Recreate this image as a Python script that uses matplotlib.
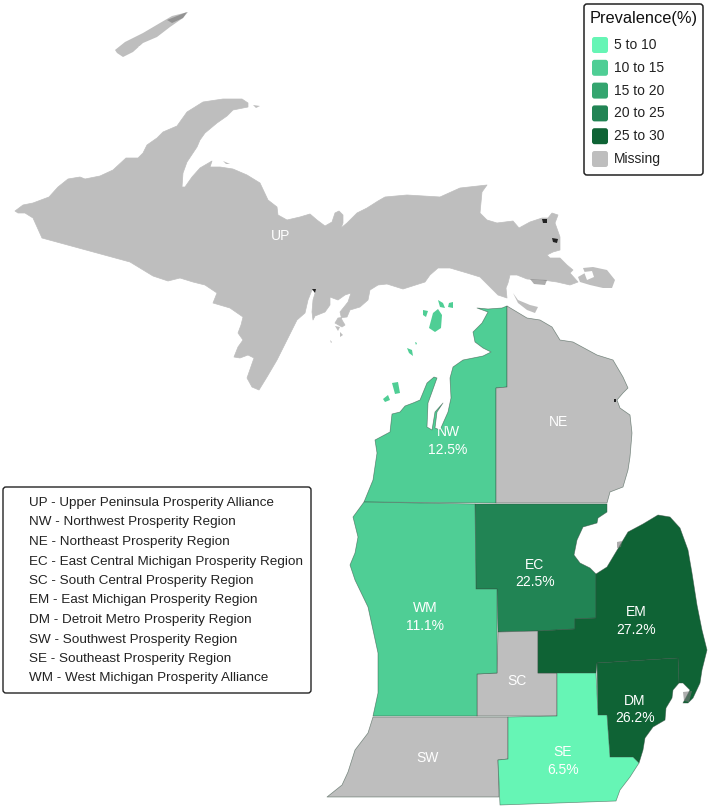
#!/usr/bin/env python3
# -*- coding: utf-8 -*-

import matplotlib
matplotlib.use('Agg')
import matplotlib.pyplot as plt
import numpy as np
from matplotlib.patches import FancyBboxPatch

plt.rcParams['font.family'] = ['Liberation Sans', 'DejaVu Sans']

UP = [(15,211),(23,205),(33,203),(49,197),(58,187),(68,179),(80,177),(85,179),(100,176),(113,170),
      (126,158),(138,158),(143,153),(147,145),(157,138),(163,132),(177,126),(187,112),(203,102),(223,99),
      (242,99),(248,103),(248,107),(233,110),(227,116),(217,123),(205,133),(200,140),(197,147),(187,162),
      (183,173),(182,187),(185,187),(192,177),(200,168),(212,161),(210,167),(220,167),(233,169),(247,175),
      (260,183),(268,200),(277,207),(278,215),(287,220),(300,217),(310,214),(317,220),(325,226),(332,222),
      (335,213),(339,211),(343,215),(343,223),(341,228),(347,223),(357,213),(367,208),(378,201),(385,197),
      (407,195),(440,197),(460,188),(487,185),(482,192),(480,213),(487,220),(497,223),(513,221),(519,228),
      (530,222),(542,218),(548,218),(552,213),(558,215),(555,223),(560,237),(560,250),(553,252),(547,255),
      (550,258),(560,258),(567,265),(573,270),(570,273),(578,282),(570,285),(557,282),(543,280),(527,279),
      (517,275),(510,275),(508,283),(506,288),(507,298),(498,295),(490,287),(480,277),(467,273),(450,268),
      (438,268),(430,275),(425,282),(403,289),(387,284),(378,285),(370,290),(368,300),(360,307),(350,310),
      (347,317),(338,318),(335,323),(342,327),(345,325),(342,320),(340,312),(348,302),(351,293),(345,295),
      (338,300),(330,297),(330,305),(325,312),(315,316),(313,320),(312,312),(313,300),(316,290),(312,290),
      (308,300),(305,313),(297,320),(287,340),(277,360),(267,377),(259,390),(252,387),(247,378),(254,358),
      (248,355),(240,358),(234,357),(238,347),(243,340),(238,333),(241,325),(243,317),(230,308),(213,303),
      (217,293),(205,285),(193,282),(180,278),(168,281),(153,276),(130,262),(42,238),(33,218),(25,213),(18,213)]
ISLE_ROYALE = [(115,50),(125,42),(143,33),(160,23),(172,16),(188,12),(183,18),(170,27),(157,37),(143,43),
               (133,52),(123,57),(117,53)]
DRUMMOND = [(583,268),(593,267),(607,270),(615,280),(612,288),(603,288),(590,285),(580,282),(578,277),(585,273)]
BOIS_BLANC = [(513,293),(518,300),(530,305),(538,307),(535,313),(527,310),(518,303)]
UP_ISLETS = [[(340,332),(343,335),(340,337)], [(330,340),(332,342),(331,343)], [(253,105),(260,106),(256,108)],
             [(223,161),(230,164),(226,164)], [(335,326),(340,327),(338,331)]]

NW = [(507,306),(507,387),(496,388),(496,503),(364,502),(373,480),(377,453),(375,440),(390,432),(392,414),
      (400,412),(405,406),(413,403),(420,400),(427,383),(434,377),(437,378),(432,392),(428,403),(427,427),
      (432,430),(435,412),(443,403),(437,412),(435,428),(440,430),(448,412),(451,398),(450,378),(453,367),
      (463,360),(483,356),(491,352),(483,348),(475,342),(473,332),(482,323),(488,312),(477,308),(488,309),
      (502,308)]
NE = [(507,306),(527,318),(540,320),(552,327),(560,340),(573,342),(597,355),(613,360),(623,377),(628,388),
      (623,393),(617,400),(620,408),(630,415),(632,433),(630,457),(628,470),(623,487),(610,492),(607,503),
      (496,503),(496,388),(507,387)]
WM = [(364,502),(475,504),(476,589),(497,589),(497,673),(477,674),(477,716),(373,716),(378,693),(378,653),
      (368,607),(355,580),(350,565),(355,553),(358,537),(353,517)]
EC = [(475,504),(607,504),(607,512),(598,518),(597,523),(583,527),(577,540),(574,555),(580,563),(590,568),
      (596,574),(596,618),(575,619),(575,629),(538,631),(498,632),(497,589),(476,589)]
EM = [(596,574),(607,567),(613,557),(622,542),(628,532),(643,524),(658,515),(670,517),(680,528),(688,550),
      (692,573),(697,605),(702,630),(707,650),(702,670),(700,683),(693,698),(688,703),(683,703),(690,690),
      (683,683),(679,683),(678,658),(597,663),(596,673),(538,673),(538,631),(575,629),(575,619),(596,618)]
DM = [(597,663),(678,658),(679,683),(673,690),(672,698),(666,708),(665,720),(653,727),(645,738),(643,750),
      (639,763),(633,757),(610,757),(607,715),(598,715)]
SE = [(557,673),(596,673),(598,715),(607,715),(610,757),(633,757),(639,763),(630,777),(620,790),(616,801),
      (500,805),(498,760),(508,759),(508,717),(557,716)]
SC = [(498,632),(538,631),(538,673),(557,673),(557,716),(477,716),(477,674),(497,673)]
SW = [(373,717),(508,717),(508,759),(498,760),(499,797),(327,797),(342,785),(348,772),(355,750),(368,733)]

NW_ISLANDS = [[(429,328),(433,313),(438,309),(442,315),(441,328),(435,332)],
              [(423,310),(428,311),(426,317),(423,315)],
              [(438,300),(443,303),(445,308),(440,307)],
              [(449,303),(453,302),(453,308),(448,307)],
              [(407,348),(412,350),(413,356),(409,353)],
              [(415,342),(417,343),(416,345)],
              [(392,383),(398,382),(400,393),(395,394)],
              [(383,399),(388,395),(390,400),(385,402)]]
LAKES = [[(138,47),(147,43),(157,42),(152,47),(143,49)], [(584,272),(592,271),(594,277),(587,280)]]
BLACK_SPOTS = [[(542,219),(547,219),(547,223),(543,223)], [(552,238),(558,239),(557,243),(553,242)],
               [(312,289),(316,289),(315,293)], [(614,399),(616,399),(616,402),(614,402)]]
GRAY_SPOTS = [[(167,20),(187,12),(183,18),(172,23)], [(530,279),(547,280),(545,285),(534,284)],
              [(617,542),(622,541),(621,547),(617,548)], [(683,692),(692,691),(689,702),(684,701)]]

# regions, label positions and prevalence (None = missing)
regions = ['UP', 'NW', 'NE', 'EC', 'SC', 'EM', 'DM', 'SW', 'SE', 'WM']
shapes = [UP, NW, NE, EC, SC, EM, DM, SW, SE, WM]
prevalence = [None, 12.5, None, 22.5, None, 27.2, 26.2, None, 6.5, 11.1]
label_x = [281, 448, 558, 535, 517, 636, 635, 428, 563, 425]
label_y = [236, 432, 422, 565, 681, 612, 701, 758, 752, 608]

bin_edges = [5, 10, 15, 20, 25, 30]
bin_labels = ['5 to 10', '10 to 15', '15 to 20', '20 to 25', '25 to 30', 'Missing']
bin_colors = ['#66F5B5', '#4FCE95', '#34A56F', '#218454', '#0F6335']
missing_color = '#BEBEBE'

region_notes = ['UP - Upper Peninsula Prosperity Alliance',
                'NW - Northwest Prosperity Region',
                'NE - Northeast Prosperity Region',
                'EC - East Central Michigan Prosperity Region',
                'SC - South Central Prosperity Region',
                'EM - East Michigan Prosperity Region',
                'DM - Detroit Metro Prosperity Region',
                'SW - Southwest Prosperity Region',
                'SE - Southeast Prosperity Region',
                'WM - West Michigan Prosperity Alliance']


def region_color(value):
    if value is None:
        return missing_color
    return bin_colors[np.digitize(value, bin_edges) - 1]


fig = plt.figure(figsize=(7.09, 8.08), dpi=100)
ax = fig.add_axes([0, 0, 1, 1])
ax.set_xlim(0, 709)
ax.set_ylim(808, 0)
ax.axis('off')

# map
for name, shape, value in zip(regions, shapes, prevalence):
    xs, ys = zip(*shape)
    edge = missing_color if name == 'UP' else (0.2, 0.3, 0.25, 0.6)
    ax.fill(xs, ys, facecolor=region_color(value), edgecolor=edge, linewidth=0.5, joinstyle='round')

for shape in [ISLE_ROYALE, DRUMMOND, BOIS_BLANC] + UP_ISLETS:
    ax.fill(*zip(*shape), facecolor=missing_color, edgecolor='none')
for shape in NW_ISLANDS:
    ax.fill(*zip(*shape), facecolor=bin_colors[1], edgecolor='none')
for shape in LAKES:
    ax.fill(*zip(*shape), facecolor='white', edgecolor='none')
for shape in GRAY_SPOTS:
    ax.fill(*zip(*shape), facecolor='#777777', edgecolor='none', alpha=0.6)
for shape in BLACK_SPOTS:
    ax.fill(*zip(*shape), facecolor='#222222', edgecolor='none')

for name, x, y, value in zip(regions, label_x, label_y, prevalence):
    ax.text(x, y, name, color='white', fontsize=10, ha='center', va='center')
    if value is not None:
        ax.text(x, y + 17.5, f'{value}%', color='white', fontsize=10, ha='center', va='center')

# prevalence legend
ax.add_patch(FancyBboxPatch((584, 4), 119, 171, boxstyle='round,pad=0,rounding_size=3',
                            facecolor='white', edgecolor='#222222', linewidth=1.1))
ax.text(590, 19, 'Prevalence(%)', fontsize=11.8, color='#111111', ha='left', va='center')
for i, (label, color) in enumerate(zip(bin_labels, bin_colors + [missing_color])):
    y = 37 + i * 22.8
    ax.add_patch(FancyBboxPatch((593, y + 1), 14, 14, boxstyle='round,pad=1,rounding_size=2.5',
                                facecolor=color, edgecolor='none'))
    ax.text(614, y + 8, label, fontsize=10, color='#222222', ha='left', va='center')

# region name box
ax.add_patch(FancyBboxPatch((3, 487), 308, 206, boxstyle='round,pad=0,rounding_size=3',
                            facecolor='white', edgecolor='#222222', linewidth=1.0))
for i, note in enumerate(region_notes):
    ax.text(29, 503 + i * 19.5, note, fontsize=9.7, color='#222222', ha='left', va='center')

plt.savefig('out.png', dpi=100)
plt.close()
